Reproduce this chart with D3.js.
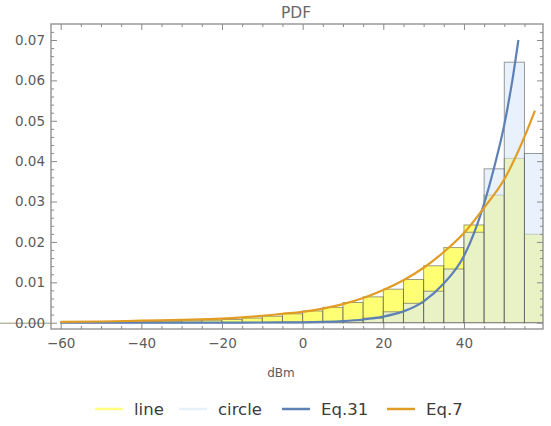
<!DOCTYPE html>
<html>
<head>
<meta charset="utf-8">
<script src="https://cdn.jsdelivr.net/npm/d3@7"></script>
<style>
  html, body { margin: 0; padding: 0; background: #fff; }
  svg { display: block; font-family: "DejaVu Sans", sans-serif; }
</style>
</head>
<body>
<svg id="chart" width="551" height="426"></svg>
<script>
// ---------- data ----------
const binEdges = [-60,-55,-50,-45,-40,-35,-30,-25,-20,-15,-10,-5,0,5,10,15,20,25,30,35,40,45,50,55];
const binWidth = 5;
const lineHist = [0.00020,0.00022,0.00025,0.00028,0.00032,0.00038,0.00048,0.00062,0.00080,0.00115,0.0016,0.0022,
                  0.0029,0.0038,0.0050,0.0064,0.0083,0.0107,0.0141,0.0186,0.0242,0.0316,0.0407,0.0219];
const circleHist = [0.00002,0.00002,0.00002,0.00002,0.00003,0.00003,0.00003,0.00004,0.00005,0.00007,0.0001,0.00015,
                    0.0002,0.0003,0.0005,0.0011,0.0027,0.0048,0.0078,0.0133,0.0224,0.0381,0.0645,0.0419];

const eq31X = [-60,-40,-20,-10,0,5,10,15,20,25,30,35,40,45,47.5,50,52,53.5];
const eq31Y = [0.0000,0.00001,0.00003,0.00005,0.0001,0.0002,0.0004,0.0008,0.0015,0.0028,0.0053,0.0097,0.0165,0.0295,0.0385,0.0490,0.0600,0.0700];

const eq7X = [-60,-50,-40,-30,-20,-15,-10,-5,0,5,10,15,20,25,30,35,40,45,50,55,57.6];
const eq7Y = [0.0002,0.0003,0.0005,0.0007,0.0010,0.0013,0.0017,0.0022,0.0027,0.0035,0.0046,0.0061,0.0081,0.0105,0.0136,0.0175,0.0222,0.0285,0.0355,0.0460,0.0525];

const xMajorTicks = [-60,-40,-20,0,20,40];
const yMajorTicks = [0,0.01,0.02,0.03,0.04,0.05,0.06,0.07];

const legendLabels = ["line","circle","Eq.31","Eq.7"];
const legendColors = ["#ffff80","#e6f1fb","#5e81b5","#e19c24"];

const titleText = "PDF";
const xLabelText = "dBm";

// ---------- layout ----------
const svg = d3.select("#chart");
const L = 51, R = 543, T = 24, B = 329;
const x = d3.scaleLinear().domain([-62.4, 59.6]).range([L, R]);
const y = d3.scaleLinear().domain([-0.00156, 0.07396]).range([B, T]);

svg.append("defs").append("clipPath").attr("id","plotclip")
  .append("rect").attr("x",L).attr("y",T).attr("width",R-L).attr("height",B-T);

const plot = svg.append("g").attr("clip-path","url(#plotclip)");

// histograms
function drawHist(vals, fill, op) {
  plot.append("g").selectAll("rect").data(binEdges).join("rect")
    .attr("x", d => x(d))
    .attr("width", d => x(d + binWidth) - x(d))
    .attr("y", (d,i) => y(vals[i]))
    .attr("height", (d,i) => y(0) - y(vals[i]))
    .attr("fill", fill).attr("fill-opacity", op)
    .attr("stroke", "#4a4a4a").attr("stroke-opacity", 0.55).attr("stroke-width", 1);
}
drawHist(lineHist, "rgb(255,255,0)", 0.55);
drawHist(circleHist, "rgb(218,234,250)", 0.6);

// curves
const lineGen = d3.line().x(d => x(d[0])).y(d => y(d[1])).curve(d3.curveMonotoneX);
plot.append("path").datum(eq31X.map((v,i)=>[v,eq31Y[i]]))
  .attr("d", lineGen).attr("fill","none").attr("stroke","#5e81b5").attr("stroke-width",2.2);
plot.append("path").datum(eq7X.map((v,i)=>[v,eq7Y[i]]))
  .attr("d", lineGen).attr("fill","none").attr("stroke","#e19c24").attr("stroke-width",2.2);

// stray axis line through 0.00 label
svg.append("line").attr("x1",0).attr("x2",L).attr("y1",y(0)+0.5).attr("y2",y(0)+0.5)
  .attr("stroke","#7d7d55").attr("stroke-opacity",0.8).attr("stroke-width",1);

// ---------- axes / frame ----------
const xMinor = d3.range(-60, 60, 5).filter(v => !xMajorTicks.includes(v));
const yMinor = d3.range(0, 37).map(i => +(i*0.002).toFixed(3)).filter(v => !yMajorTicks.some(t => Math.abs(t-v)<1e-9));

const tickColor = "#8a8a8a";
const labelColor = "#5c5c5c";

function styleAxis(g) {
  g.select(".domain").remove();
  g.selectAll(".tick line").attr("stroke", tickColor).attr("stroke-width", 1);
  g.selectAll(".tick text").attr("fill", labelColor).attr("font-size", "13.5px")
    .attr("font-family", '"DejaVu Sans", sans-serif');
}

// bottom
svg.append("g").attr("transform",`translate(0,${B})`)
  .call(d3.axisBottom(x).tickValues(xMajorTicks).tickSize(-6).tickPadding(9.5).tickFormat(d3.format("d")))
  .call(styleAxis);
svg.append("g").attr("transform",`translate(0,${B})`)
  .call(d3.axisBottom(x).tickValues(xMinor).tickSize(-3).tickFormat(""))
  .call(styleAxis);
// top
svg.append("g").attr("transform",`translate(0,${T})`)
  .call(d3.axisTop(x).tickValues(xMajorTicks).tickSize(-6).tickFormat(""))
  .call(styleAxis);
svg.append("g").attr("transform",`translate(0,${T})`)
  .call(d3.axisTop(x).tickValues(xMinor).tickSize(-3).tickFormat(""))
  .call(styleAxis);
// left
svg.append("g").attr("transform",`translate(${L},0)`)
  .call(d3.axisLeft(y).tickValues(yMajorTicks).tickSize(-6).tickPadding(6).tickFormat(d3.format(".2f")))
  .call(styleAxis);
svg.append("g").attr("transform",`translate(${L},0)`)
  .call(d3.axisLeft(y).tickValues(yMinor).tickSize(-3).tickFormat(""))
  .call(styleAxis);
// right
svg.append("g").attr("transform",`translate(${R},0)`)
  .call(d3.axisRight(y).tickValues(yMajorTicks).tickSize(-6).tickFormat(""))
  .call(styleAxis);
svg.append("g").attr("transform",`translate(${R},0)`)
  .call(d3.axisRight(y).tickValues(yMinor).tickSize(-3).tickFormat(""))
  .call(styleAxis);

// frame
svg.append("rect").attr("x",L).attr("y",T).attr("width",R-L).attr("height",B-T)
  .attr("fill","none").attr("stroke",tickColor).attr("stroke-width",1.3);

// title and axis label
svg.append("text").attr("x",296).attr("y",17.5).attr("text-anchor","middle")
  .attr("font-size","15.5px").attr("fill","#6a6a6a").text(titleText);
svg.append("text").attr("x",281).attr("y",377).attr("text-anchor","middle")
  .attr("font-size","12px").attr("fill","#5c5c5c").text(xLabelText);

// legend
const legendSwatchX = [95,179,282,387];
const lg = svg.append("g");
legendLabels.forEach((lab,i) => {
  lg.append("line").attr("x1",legendSwatchX[i]).attr("x2",legendSwatchX[i]+28)
    .attr("y1",409).attr("y2",409).attr("stroke",legendColors[i]).attr("stroke-width",2.5);
  lg.append("text").attr("x",legendSwatchX[i]+39).attr("y",415)
    .attr("font-size","16.5px").attr("fill","#3c3c3c").text(lab);
});
</script>
</body>
</html>
